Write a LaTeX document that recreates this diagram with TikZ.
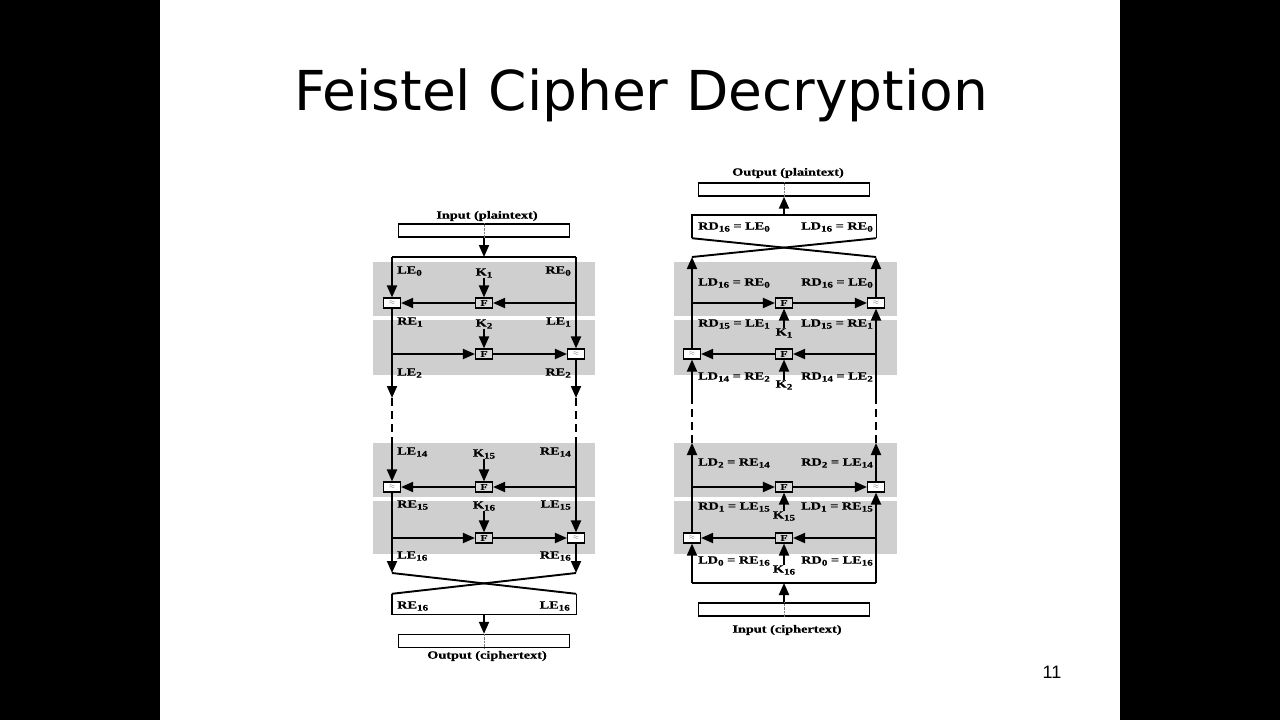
\documentclass[tikz,border=0pt]{standalone}
\usepackage{fontspec}
\usetikzlibrary{arrows.meta}
\newfontfamily\lblfont{Liberation Serif}[FakeStretch=1.3, FakeBold=0.6]
\newfontfamily\titlefont{DejaVu Sans}
\newfontfamily\numfont{Liberation Sans}
\newcommand\sx[1]{\raisebox{-0.4ex}{\fontsize{8.5}{8.5}\selectfont #1}}
\tikzset{
  flow/.style={line width=1.9pt},
  gap/.style={line width=1.9pt, dash pattern=on 8pt off 5pt},
  band/.style={fill=gray!38},
  lbl/.style={font=\lblfont\bfseries\fontsize{11}{11}\selectfont, inner sep=0pt},
  fbox/.style={draw, line width=1.1pt, fill=gray!30, minimum width=17pt, minimum height=10pt,
    inner sep=0pt, font=\lblfont\bfseries\fontsize{9}{9}\selectfont},
  xorbox/.style={draw, line width=1.1pt, fill=white, minimum width=17pt, minimum height=10pt,
    inner sep=0pt, font=\fontsize{7}{7}\selectfont, text=gray},
  iobox/.style={draw, line width=1.4pt, minimum width=171pt, minimum height=13pt, inner sep=0pt},
  swapbox/.style={inner sep=0pt, minimum width=184pt},
}

\begin{document}
\begin{tikzpicture}[x=1pt, y=-1pt, >={Triangle[length=12pt,width=10pt]}]
    \useasboundingbox (0,0) rectangle (1280,720);
    \fill[black] (0,0) rectangle (1280,720);
    \fill[white] (160,0) rectangle (1120,720);
    \node[font=\titlefont\fontsize{55}{55}\selectfont, anchor=base, inner sep=0pt] (title) at (641,110) {Feistel Cipher Decryption};
    \node[font=\numfont\fontsize{18}{18}\selectfont, inner sep=0pt] (pnum) at (1052,672) {11};
    % Grey round bands
    \foreach \t/\b in {262/316, 320/375, 443/497, 501/554} {
        \fill[band] (373,\t) rectangle (595,\b);
        \fill[band] (674,\t) rectangle (897,\b);
    }
    % Left: encryption
    \node[lbl] (einl) at (487,216) {Input (plaintext)};
    \node[iobox] (ein) at (484,230.5) {};
    \coordinate (etop) at (484,257);
    \coordinate (eL0) at (392,257);
    \coordinate (eR0) at (576,257);
    \node[xorbox] (ex1) at (392,303) {$\approx$};
    \node[fbox] (ef1) at (484,303) {F};
    \node[fbox] (ef2) at (484,354) {F};
    \node[xorbox] (ex2) at (576,354) {$\approx$};
    \node[xorbox] (ex15) at (392,487) {$\approx$};
    \node[fbox] (ef15) at (484,487) {F};
    \node[fbox] (ef16) at (484,538) {F};
    \node[xorbox] (ex16) at (576,538) {$\approx$};
    \coordinate (eLa) at (392,398); \coordinate (eRa) at (576,398);
    \coordinate (eLb) at (392,443); \coordinate (eRb) at (576,443);
    \coordinate (eLz) at (392,573); \coordinate (eRz) at (576,573);
    \node[swapbox, minimum height=20pt] (eswap) at (484,604) {};
    \node[iobox] (eout) at (484,641) {};
    \node[lbl] (eoutl) at (487,656) {Output (ciphertext)};
    \node[lbl] (ek1) at (484,273) {K\sx{1}};
    \node[lbl] (ek2) at (484,324) {K\sx{2}};
    \node[lbl] (ek15) at (484,454) {K\sx{15}};
    \node[lbl] (ek16) at (484,506) {K\sx{16}};
    \node[lbl, anchor=west] at (397,271) {LE\sx{0}};
    \node[lbl, anchor=east] at (571,271) {RE\sx{0}};
    \node[lbl, anchor=west] at (397,322) {RE\sx{1}};
    \node[lbl, anchor=east] at (571,322) {LE\sx{1}};
    \node[lbl, anchor=west] at (397,373) {LE\sx{2}};
    \node[lbl, anchor=east] at (571,373) {RE\sx{2}};
    \node[lbl, anchor=west] at (397,452) {LE\sx{14}};
    \node[lbl, anchor=east] at (571,452) {RE\sx{14}};
    \node[lbl, anchor=west] at (397,505) {RE\sx{15}};
    \node[lbl, anchor=east] at (571,505) {LE\sx{15}};
    \node[lbl, anchor=west] at (397,556) {LE\sx{16}};
    \node[lbl, anchor=east] at (571,556) {RE\sx{16}};
    \node[lbl, anchor=west] at (397,606) {RE\sx{16}};
    \node[lbl, anchor=east] at (570,606) {LE\sx{16}};
    \draw[densely dotted, gray] (ein.north) -- (ein.south);
    \draw[densely dotted, gray] (eout.north) -- (eout.south);
    \draw[flow,->] (ein.south) -- (etop);
    \draw[flow] (eL0) -- (eR0);
    \draw[flow,->] (eL0) -- (ex1.north);
    \draw[flow,->] (eR0) -- (ex2.north);
    \draw[flow,->] (ef1 -| eR0) -- (ef1.east);
    \draw[flow,->] (ef1.west) -- (ex1.east);
    \draw[flow,->] (ek1.south) -- (ef1.north);
    \draw[flow,->] (ex1.south) -- (eLa);
    \draw[flow,->] (ef2 -| eL0) -- (ef2.west);
    \draw[flow,->] (ef2.east) -- (ex2.west);
    \draw[flow,->] (ek2.south) -- (ef2.north);
    \draw[flow,->] (ex2.south) -- (eRa);
    \draw[gap] (eLa) -- (eLb);
    \draw[gap] (eRa) -- (eRb);
    \draw[flow,->] (eLb) -- (ex15.north);
    \draw[flow,->] (eRb) -- (ex16.north);
    \draw[flow,->] (ef15 -| eR0) -- (ef15.east);
    \draw[flow,->] (ef15.west) -- (ex15.east);
    \draw[flow,->] (ek15.south) -- (ef15.north);
    \draw[flow,->] (ex15.south) -- (eLz);
    \draw[flow,->] (ef16 -| eL0) -- (ef16.west);
    \draw[flow,->] (ef16.east) -- (ex16.west);
    \draw[flow,->] (ek16.south) -- (ef16.north);
    \draw[flow,->] (ex16.south) -- (eRz);
    \draw[flow] (eLz) -- (eswap.north east);
    \draw[flow] (eRz) -- (eswap.north west);
    \draw[line width=1.4pt] (eswap.north west) -- (eswap.south west) -- (eswap.south east) -- (eswap.north east);
    \draw[flow,->] (eswap.south) -- (eout.north);
    % Right: decryption
    \node[lbl] (doutl) at (788,173) {Output (plaintext)};
    \node[iobox] (dout) at (784,189.5) {};
    \node[swapbox, minimum height=23pt] (dswap) at (784,226.5) {};
    \coordinate (dLt) at (692,257); \coordinate (dRt) at (876,257);
    \node[xorbox] (dx1) at (876,303) {$\approx$};
    \node[fbox] (df1) at (784,303) {F};
    \node[fbox] (df2) at (784,354) {F};
    \node[xorbox] (dx2) at (692,354) {$\approx$};
    \node[xorbox] (dx15) at (876,487) {$\approx$};
    \node[fbox] (df15) at (784,487) {F};
    \node[fbox] (df16) at (784,538) {F};
    \node[xorbox] (dx16) at (692,538) {$\approx$};
    \coordinate (dLa) at (692,400); \coordinate (dRa) at (876,400);
    \coordinate (dLb) at (692,443); \coordinate (dRb) at (876,443);
    \coordinate (dLz) at (692,583); \coordinate (dRz) at (876,583);
    \coordinate (dbot) at (784,583);
    \node[iobox] (din) at (784,609.5) {};
    \node[lbl] (dinl) at (787,630) {Input (ciphertext)};
    \node[lbl] (dk1) at (784,333) {K\sx{1}};
    \node[lbl] (dk2) at (784,385) {K\sx{2}};
    \node[lbl] (dk15) at (784,516) {K\sx{15}};
    \node[lbl] (dk16) at (784,570) {K\sx{16}};
    \node[lbl, anchor=west] at (698,227) {RD\sx{16} = LE\sx{0}};
    \node[lbl, anchor=east] at (873,227) {LD\sx{16} = RE\sx{0}};
    \node[lbl, anchor=west] at (698,283) {LD\sx{16} = RE\sx{0}};
    \node[lbl, anchor=east] at (873,283) {RD\sx{16} = LE\sx{0}};
    \node[lbl, anchor=west] at (698,324) {RD\sx{15} = LE\sx{1}};
    \node[lbl, anchor=east] at (873,324) {LD\sx{15} = RE\sx{1}};
    \node[lbl, anchor=west] at (698,377) {LD\sx{14} = RE\sx{2}};
    \node[lbl, anchor=east] at (873,377) {RD\sx{14} = LE\sx{2}};
    \node[lbl, anchor=west] at (698,463) {LD\sx{2} = RE\sx{14}};
    \node[lbl, anchor=east] at (873,463) {RD\sx{2} = LE\sx{14}};
    \node[lbl, anchor=west] at (698,507) {RD\sx{1} = LE\sx{15}};
    \node[lbl, anchor=east] at (873,507) {LD\sx{1} = RE\sx{15}};
    \node[lbl, anchor=west] at (698,561) {LD\sx{0} = RE\sx{16}};
    \node[lbl, anchor=east] at (873,561) {RD\sx{0} = LE\sx{16}};
    \draw[densely dotted, gray] (dout.north) -- (dout.south);
    \draw[densely dotted, gray] (din.north) -- (din.south);
    \draw[flow,->] (din.north) -- (dbot);
    \draw[flow] (dLz) -- (dRz);
    \draw[flow,->] (dLz) -- (dx16.south);
    \draw[flow,->] (dRz) -- (dx15.south);
    \draw[flow,->] (df16 -| dRz) -- (df16.east);
    \draw[flow,->] (df16.west) -- (dx16.east);
    \draw[flow,->] (dk16.north) -- (df16.south);
    \draw[flow,->] (dx16.north) -- (dLb);
    \draw[flow,->] (df15 -| dLz) -- (df15.west);
    \draw[flow,->] (df15.east) -- (dx15.west);
    \draw[flow,->] (dk15.north) -- (df15.south);
    \draw[flow,->] (dx15.north) -- (dRb);
    \draw[gap] (dLb) -- (dLa);
    \draw[gap] (dRb) -- (dRa);
    \draw[flow,->] (dLa) -- (dx2.south);
    \draw[flow,->] (dRa) -- (dx1.south);
    \draw[flow,->] (df2 -| dRz) -- (df2.east);
    \draw[flow,->] (df2.west) -- (dx2.east);
    \draw[flow,->] (dk2.north) -- (df2.south);
    \draw[flow,->] (dx2.north) -- (dLt);
    \draw[flow,->] (df1 -| dLz) -- (df1.west);
    \draw[flow,->] (df1.east) -- (dx1.west);
    \draw[flow,->] (dk1.north) -- (df1.south);
    \draw[flow,->] (dx1.north) -- (dRt);
    \draw[flow] (dLt) -- (dswap.south east);
    \draw[flow] (dRt) -- (dswap.south west);
    \draw[line width=1.4pt] (dswap.south west) -- (dswap.north west) -- (dswap.north east) -- (dswap.south east);
    \draw[flow,->] (dswap.north) -- (dout.south);
\end{tikzpicture}
\end{document}
